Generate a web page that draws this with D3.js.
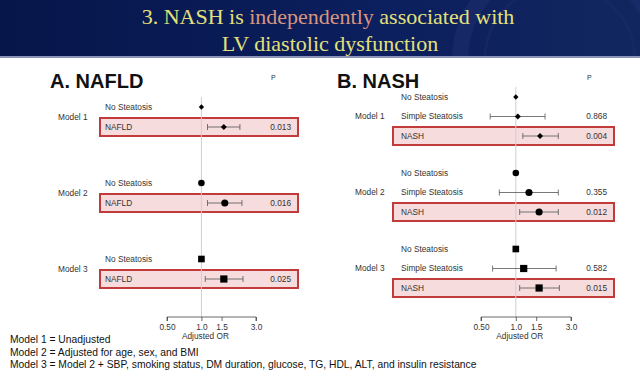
<!DOCTYPE html>
<html>
<head>
<meta charset="utf-8">
<script src="https://cdn.jsdelivr.net/npm/d3@7"></script>
<style>
  body { margin: 0; background: #fff; }
  svg { display: block; font-family: "Liberation Sans", Arial, sans-serif; }
  .lbl { font-size: 8.3px; fill: #333; }
  .axis text { font-size: 8.3px; fill: #333; font-family: "Liberation Sans", Arial, sans-serif; }
  .axis path, .axis line { stroke: #444; stroke-width: 0.8; }
</style>
</head>
<body>
<div id="chart"></div>
<script>
const WIDTH = 640;
const HEIGHT = 388;

// panel A: NAFLD
const modelsA = ["Model 1", "Model 2", "Model 3"];
const rowsA = ["No Steatosis", "NAFLD"];
const orA = [[1, 1.57], [1, 1.60], [1, 1.57]];
const loA = [[null, 1.13], [null, 1.13], [null, 1.08]];
const hiA = [[null, 2.17], [null, 2.26], [null, 2.31]];
const pA = [["", "0.013"], ["", "0.016"], ["", "0.025"]];

// panel B: NASH
const modelsB = ["Model 1", "Model 2", "Model 3"];
const rowsB = ["No Steatosis", "Simple Steatosis", "NASH"];
const orB = [[1, 1.04, 1.62], [1, 1.30, 1.59], [1, 1.17, 1.59]];
const loB = [[null, 0.60, 1.15], [null, 0.72, 1.08], [null, 0.63, 1.08]];
const hiB = [[null, 1.79, 2.33], [null, 2.33, 2.33], [null, 2.23, 2.38]];
const pB = [["", "0.868", "0.004"], ["", "0.355", "0.012"], ["", "0.582", "0.015"]];

const tickVals = [0.5, 1, 1.5, 3];
const tickLabels = ["0.50", "1.0", "1.5", "3.0"];
const notes = [
  "Model 1 = Unadjusted",
  "Model 2 = Adjusted for age, sex, and BMI",
  "Model 3 = Model 2 + SBP, smoking status, DM duration, glucose, TG, HDL, ALT, and insulin resistance"
];

var svg = d3.select("#chart").append("svg")
    .attr("width", WIDTH)
    .attr("height", HEIGHT);

/* Title band */
var defs = svg.append("defs");
var grad = defs.append("linearGradient").attr("id", "band").attr("x1", 0).attr("x2", 1);
grad.append("stop").attr("offset", "0%").attr("stop-color", "#06164a");
grad.append("stop").attr("offset", "60%").attr("stop-color", "#0c1f5e");
grad.append("stop").attr("offset", "100%").attr("stop-color", "#12265e");
defs.append("clipPath").attr("id", "bandclip")
  .append("rect").attr("width", WIDTH).attr("height", 56);
svg.append("rect").attr("width", WIDTH).attr("height", 57).attr("fill", "url(#band)");
// faint seal in the corner
var seal = svg.append("g").attr("clip-path", "url(#bandclip)");
seal.append("circle").attr("cx", 560).attr("cy", 60).attr("r", 100)
    .attr("fill", "none").attr("stroke", "#1c2f6c").attr("stroke-width", 16).attr("opacity", 0.6);
seal.append("circle").attr("cx", 560).attr("cy", 60).attr("r", 75)
    .attr("fill", "none").attr("stroke", "#192c66").attr("stroke-width", 3).attr("opacity", 0.6);
svg.append("rect").attr("y", 56).attr("width", WIDTH).attr("height", 2).attr("fill", "#8a94b8");

var title = svg.append("text")
    .attr("x", 328).attr("y", 24)
    .attr("text-anchor", "middle")
    .style("font-family", "'Liberation Serif', 'DejaVu Serif', serif")
    .style("font-size", "22px")
    .attr("fill", "#e4e07a");
title.append("tspan").text("3. NASH is ");
title.append("tspan").attr("fill", "#d8957f").text("independently");
title.append("tspan").text(" associated with");
svg.append("text")
    .attr("x", 330).attr("y", 51)
    .attr("text-anchor", "middle")
    .style("font-family", "'Liberation Serif', 'DejaVu Serif', serif")
    .style("font-size", "22px")
    .attr("fill", "#e4e07a")
    .text("LV diastolic dysfunction");

const symbols = [d3.symbolSquare, d3.symbolCircle, d3.symbolSquare];
const symRotate = [45, 0, 0];
const symSizes = [[14, 18], [34, 40], [44, 52]];

function drawPanel(opt) {
  var x = d3.scaleLog().domain([0.5, 3]).range(opt.xr);
  var g = svg.append("g");
  var nRows = opt.rows.length;
  var yRow = (m, r) => opt.y0 + m * 76 + r * opt.step;

  g.append("text").attr("x", opt.titleX).attr("y", 88)
      .style("font-size", "20px").style("font-weight", "bold").attr("fill", "#111")
      .text(opt.title);
  g.append("text").attr("x", opt.pX - 20).attr("y", 80)
      .style("font-size", "7px").attr("fill", "#333").text("P");

  // highlight boxes on last row of each model
  opt.models.forEach((m, i) => {
    var y = yRow(i, nRows - 1);
    g.append("rect")
        .attr("x", opt.box[0]).attr("y", y - 9)
        .attr("width", opt.box[1] - opt.box[0]).attr("height", 18)
        .attr("fill", "#f6dcdc").attr("stroke", "#c23b3b").attr("stroke-width", 2);
  });

  // reference line at OR = 1
  g.append("line")
      .attr("x1", x(1)).attr("x2", x(1))
      .attr("y1", opt.y0 - 10).attr("y2", 317)
      .attr("stroke", "#cfcfcf").attr("stroke-width", 1);

  opt.models.forEach((m, i) => {
    g.append("text").attr("class", "lbl")
        .attr("x", opt.modelX).attr("y", opt.modelY(i)).attr("dy", "0.35em")
        .text(m);
    opt.rows.forEach((r, j) => {
      var y = yRow(i, j);
      g.append("text").attr("class", "lbl")
          .attr("x", opt.rowX).attr("y", y).attr("dy", "0.35em").text(r);
      if (opt.lo[i][j] != null) {
        g.append("line").attr("x1", x(opt.lo[i][j])).attr("x2", x(opt.hi[i][j]))
            .attr("y1", y).attr("y2", y).attr("stroke", "#555").attr("stroke-width", 0.8);
        [opt.lo[i][j], opt.hi[i][j]].forEach(v => {
          g.append("line").attr("x1", x(v)).attr("x2", x(v))
              .attr("y1", y - 3).attr("y2", y + 3).attr("stroke", "#555").attr("stroke-width", 0.8);
        });
      }
      g.append("path")
          .attr("transform", "translate(" + x(opt.or[i][j]) + "," + y + ") rotate(" + symRotate[i] + ")")
          .attr("d", d3.symbol().type(symbols[i]).size(symSizes[i][j === 0 ? 0 : 1])())
          .attr("fill", "#000");
      if (opt.p[i][j]) {
        g.append("text").attr("class", "lbl").attr("text-anchor", "end")
            .attr("x", opt.pX).attr("y", y).attr("dy", "0.35em").text(opt.p[i][j]);
      }
    });
  });

  var axis = d3.axisBottom(x).tickValues(tickVals)
      .tickFormat((d, i) => tickLabels[i]).tickSize(4).tickPadding(3);
  var ag = g.append("g").attr("class", "axis").attr("transform", "translate(0,317)").call(axis);
  ag.select(".domain").attr("d", "M" + x(0.5) + ",4V0H" + x(3) + "V4");
  g.append("text").attr("class", "lbl").attr("text-anchor", "middle")
      .attr("x", x(1) + 4).attr("y", 339).text("Adjusted OR");
}

drawPanel({
  title: "A. NAFLD", titleX: 50, xr: [167, 256],
  models: modelsA, rows: rowsA, or: orA, lo: loA, hi: hiA, p: pA,
  y0: 107, step: 20, box: [100, 298], rowX: 105, modelX: 58, pX: 291,
  modelY: i => 107 + i * 76 + 10
});

drawPanel({
  title: "B. NASH", titleX: 337, xr: [481, 571],
  models: modelsB, rows: rowsB, or: orB, lo: loB, hi: hiB, p: pB,
  y0: 97, step: 19.5, box: [393, 614], rowX: 401, modelX: 355, pX: 607,
  modelY: i => 97 + i * 76 + 19.5
});

svg.selectAll(".note").data(notes).enter().append("text")
    .attr("class", "note")
    .attr("x", 10).attr("y", (d, i) => 343 + i * 12.5)
    .style("font-size", "10.3px").attr("fill", "#111")
    .text(d => d);
</script>
</body>
</html>
